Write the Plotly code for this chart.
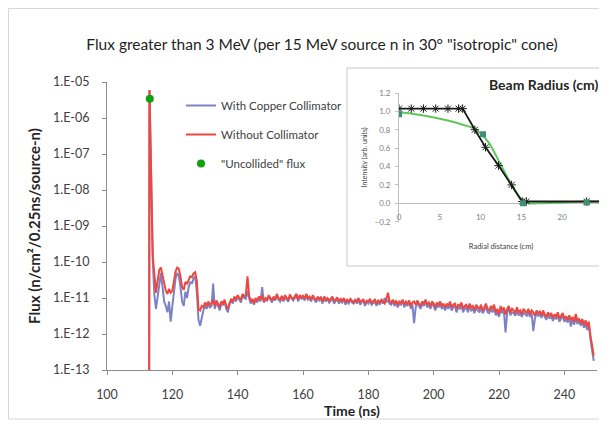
import numpy as np
import plotly.graph_objects as go

# Time grid of the main plot (ns); the collided flux is sampled every 0.5 ns after the spike
spike_time = [112.9, 113.0]
main_time = np.arange(114.0, 249.01, 0.5)

# Flux values (n/cm^2/0.25ns/source-n); tails are written in units of 1e-12
spike_red = [1e-14, 6e-6]
spike_blue = [1e-14, 6e-6]

red_tail_e12 = [
    150, 45, 14, 30, 60, 70, 45, 25, 16, 13,
    18, 14, 16, 30, 55, 70, 65, 40, 20, 17,
    28, 25, 32, 40, 38, 48, 52, 30, 5, 4.5,
    6, 5.5, 7.5, 6, 8, 6.5, 7, 9, 6, 8.5,
    7, 5.5, 8, 7, 9, 6, 5, 7.5, 9.5, 8,
    11, 9, 12, 10, 9, 13, 11, 12, 40, 12,
    8, 9.5, 7, 10, 8.5, 11, 9, 12, 8, 10,
    9, 12, 10, 8.5, 11, 9, 13, 10, 9, 11.5,
    8.5, 12, 10, 9, 12.5, 10, 9.5, 11, 13, 9,
    12, 10.5, 11.5, 9.5, 13, 10, 11, 9, 12, 10,
    8.5, 11, 9.5, 10.5, 8, 11, 9, 10, 8.5, 9.5,
    11, 8, 9, 10.5, 8, 9.5, 8.5, 10, 7.5, 9,
    8, 9.5, 8.5, 7.5, 9, 8, 10, 7.5, 8.5, 9,
    7, 8.5, 8, 9.5, 7.5, 8, 9, 7, 8.5, 7.5,
    9, 8, 7, 9, 14, 8, 7.5, 9, 7, 8.5,
    6.5, 8, 7.5, 9, 6.5, 8, 7, 8.5, 6, 7.5,
    8, 6.5, 8.5, 7, 6, 8, 7, 9, 6.5, 7.5,
    6, 8, 7, 5.5, 7.5, 6.5, 8, 6, 7, 5.5,
    7, 6, 8, 5.5, 6.5, 7, 5, 6.5, 6, 7.5,
    5, 6, 6.5, 5, 7, 5.5, 6, 4.5, 6.5, 5.5,
    5, 6.5, 4.5, 5.5, 7, 5, 4.5, 6, 5, 6.5,
    4, 5, 3.5, 6, 4.5, 5.5, 3.5, 5, 6, 4,
    5, 4.5, 3.8, 5.5, 4, 4.5, 3.5, 5, 4.2, 3.8,
    5, 3.5, 4.5, 4, 3.2, 4.5, 3.8, 4.2, 3.3, 4.5,
    3.5, 3, 4, 3.2, 3.8, 2.8, 3.5, 3, 4, 2.7,
    3.2, 3.8, 2.6, 3.1, 2.5, 3.3, 2.4, 3, 2.2, 3.6,
    2.3, 2.7, 2, 2.6, 1.8, 2.4, 1.6, 2.2, 0.9, 0.5,
    0.25,
]

blue_tail_e12 = [
    120, 12, 5, 12, 30, 50, 20, 8, 6, 4,
    8, 2.2, 6, 15, 35, 50, 40, 20, 8, 6,
    15, 10, 20, 28, 25, 35, 40, 15, 2.5, 1.7,
    3, 4.5, 6, 5, 7, 5.5, 6, 25, 5, 7.5,
    6, 4.5, 7, 6.5, 8, 5, 4, 7, 8.5, 7,
    10, 8, 11, 9, 7.5, 12, 10, 9.5, 16, 10,
    7, 8.5, 6.5, 9.5, 7.5, 10, 8, 20, 7.5, 9,
    8.5, 11, 9, 7.5, 10, 8.5, 12, 9, 8, 10.5,
    8, 11, 9, 8, 11.5, 9.5, 8.5, 10, 12, 8,
    11, 9.5, 10.5, 8.5, 12, 9, 10, 8, 11, 9,
    7.5, 10, 8.5, 9.5, 7, 10, 8, 9.5, 7.5, 8.5,
    10, 7, 8.5, 9.5, 7, 8.5, 7.5, 9.5, 6.5, 8,
    7, 9, 7.5, 7, 8.5, 7, 9, 6.5, 8, 8,
    6, 8, 7, 8.5, 6.5, 7.5, 8, 6, 8, 6.5,
    8.5, 7, 10, 8, 8.5, 7, 6.5, 8.5, 6, 7.5,
    5.5, 7, 6.5, 8.5, 5.5, 7, 6, 8, 5, 6.5,
    2, 5.5, 7.5, 6, 5, 7, 6, 8.5, 5.5, 6.5,
    5, 7, 6, 4.5, 6.5, 5.5, 7, 5, 6, 4.5,
    6, 5, 7, 4.5, 5.5, 6, 4, 5.5, 5, 6.5,
    4, 5, 5.5, 4, 6, 4.5, 5, 3.8, 5.5, 4.5,
    4, 5.5, 3.8, 4.5, 6, 4, 3.8, 5, 4, 5.5,
    3.3, 4, 3, 5, 3.8, 4.5, 1.1, 4, 5, 3.3,
    4, 3.8, 3.2, 4.5, 3.3, 3.8, 3, 4, 3.5, 3.2,
    4, 3, 3.8, 1.2, 2.7, 3.8, 3.2, 3.5, 2.8, 3.8,
    3, 2.5, 3.4, 2.7, 3.2, 2.3, 3, 2.6, 3.3, 2.2,
    2.7, 3.2, 2.2, 2.6, 2.1, 2.8, 1.6, 2.6, 1.8, 3,
    1.9, 2.3, 1.7, 2.2, 1.5, 2, 1.3, 1.8, 0.7, 0.35,
    0.18,
]

uncollided_time = [113.1]
uncollided_flux = [3.4e-6]

y_tick_vals = [1e-13, 1e-12, 1e-11, 1e-10, 1e-9, 1e-8, 1e-7, 1e-6, 1e-5]
y_tick_text = ["1.E-13", "1.E-12", "1.E-11", "1.E-10", "1.E-09",
               "1.E-08", "1.E-07", "1.E-06", "1.E-05"]
x_tick_vals = [100, 120, 140, 160, 180, 200, 220, 240]

# Inset: beam radius profile
radius_fit = [0, 1.5, 3, 4.5, 6, 7.3, 7.8, 9.3, 10.6, 12.2, 13.8, 15.1, 15.6, 23, 25]
intensity_fit = [1.03, 1.03, 1.03, 1.03, 1.03, 1.03, 1.03, 0.8, 0.61, 0.41, 0.2,
                 0.02, 0.02, 0.02, 0.02]
radius_smooth = [0, 2, 4, 6, 8, 9, 10, 11, 12, 13, 14, 15, 16, 17, 20, 23, 25]
intensity_smooth = [0.99, 0.97, 0.94, 0.9, 0.85, 0.82, 0.76, 0.66, 0.5, 0.33, 0.17,
                    0.04, 0.0, 0.0, 0.01, 0.02, 0.02]
radius_meas = [0, 10.3, 15.2, 23]
intensity_meas = [0.97, 0.75, 0.0, 0.01]
inset_x_ticks = [0, 5, 10, 15, 20, 25]

red_flux = spike_red + list(np.array(red_tail_e12) * 1e-12)
blue_flux = spike_blue + list(np.array(blue_tail_e12) * 1e-12)
time = spike_time + list(main_time)

BLUE = "#7d82c5"
RED = "#ec4840"
GREEN = "#12a012"
GREY = "#404040"
AXIS = "#8c8c8c"
FONT = "Lato"

# the page body has an 8px margin, so the figure is laid out 8px short of the window
W, H = 599, 413
L, R, T, B = 99, 4, 74, 51
PW, PH = W - L - R, H - T - B


def px(page_x):
    return (page_x - 8 - L) / PW


def py(page_y):
    return (T + PH - (page_y - 8)) / PH


fig = go.Figure()

fig.add_trace(go.Scatter(x=time, y=blue_flux, mode="lines", name="With Copper Collimator",
                         line=dict(color=BLUE, width=2), legendgroup="a"))
fig.add_trace(go.Scatter(x=time, y=red_flux, mode="lines", name="Without Collimator",
                         line=dict(color=RED, width=2), legendgroup="b"))
fig.add_trace(go.Scatter(x=uncollided_time, y=uncollided_flux, mode="markers",
                         name='"Uncollided" flux', marker=dict(color=GREEN, size=8),
                         legendgroup="c"))

# inset traces
fig.add_trace(go.Scatter(x=radius_smooth, y=intensity_smooth, mode="lines",
                         line=dict(color="#5cc85c", width=2, shape="spline"),
                         xaxis="x2", yaxis="y2", showlegend=False))
fig.add_trace(go.Scatter(x=radius_fit, y=intensity_fit, mode="lines+markers",
                         line=dict(color="#1a1a1a", width=1.8),
                         marker=dict(symbol="asterisk-open", size=7,
                                     line=dict(color="#555555", width=1)),
                         xaxis="x2", yaxis="y2", showlegend=False))
fig.add_trace(go.Scatter(x=radius_meas, y=intensity_meas, mode="markers",
                         marker=dict(symbol="square", size=6, color="#3f8f72"),
                         xaxis="x2", yaxis="y2", showlegend=False))

fig.update_layout(
    width=W, height=H,
    margin=dict(l=L, r=R, t=T, b=B),
    paper_bgcolor="white", plot_bgcolor="white",
    font=dict(family=FONT, color=GREY, size=12),
    title=dict(text='Flux greater than 3 MeV (per 15 MeV source n in 30° "isotropic" cone)',
               x=(322 - 8) / W, xanchor="center", y=1 - (45 - 8) / H, yanchor="middle",
               font=dict(size=15.5, color="#1f1f1f")),
    legend=dict(x=px(181), y=py(91), xanchor="left", yanchor="top",
                bgcolor="rgba(0,0,0,0)", tracegroupgap=10, itemwidth=30,
                font=dict(size=11.5, color=GREY)),
    xaxis=dict(domain=[0, 490 / PW], range=[100, 250], tickvals=x_tick_vals,
               showgrid=False, zeroline=False, showline=True, linecolor=AXIS,
               ticks="outside", ticklen=4, tickcolor=AXIS, ticklabelstandoff=9,
               tickfont=dict(size=12.5, color=GREY),
               title=dict(text="<b>Time (ns)</b>", standoff=5,
                          font=dict(size=14, color="#262626"))),
    yaxis=dict(type="log", range=[-13, -5], tickvals=y_tick_vals, ticktext=y_tick_text,
               showgrid=False, zeroline=False, showline=True, linecolor=AXIS,
               ticks="outside", ticklen=4, tickcolor=AXIS, ticklabelstandoff=10,
               tickfont=dict(size=12.5, color=GREY),
               title=dict(text="<b>Flux (n/cm²/0.25ns/source-n)</b>", standoff=8,
                          font=dict(size=15, color="#262626"))),
    xaxis2=dict(domain=[px(399), 1.0], range=[0, 25], tickvals=inset_x_ticks,
                anchor="free", position=py(211), showgrid=False, zeroline=False,
                showline=False, ticks="", tickfont=dict(size=8, color="#808080"),
                title=dict(text="Radial distance (cm)", standoff=22,
                           font=dict(size=7.5, color=GREY))),
    yaxis2=dict(domain=[py(221.7), py(93)], range=[-0.2, 1.2], dtick=0.2, tickformat=".1f",
                anchor="x2", showgrid=False, zeroline=True, zerolinecolor="#bfbfbf",
                zerolinewidth=1, showline=True, linecolor="#bfbfbf", ticks="outside",
                ticklen=3, tickcolor="#bfbfbf", ticklabelstandoff=3,
                tickfont=dict(size=8, color="#808080"),
                title=dict(text="Intensity (arb. units)", standoff=6,
                           font=dict(size=7, color=GREY))),
)

# chart frame and inset frame
fig.add_shape(type="rect", xref="paper", yref="paper", layer="below",
              x0=px(8.5), x1=px(620), y0=py(419), y1=py(8.5),
              line=dict(color="#d6d6d6", width=1), fillcolor="rgba(0,0,0,0)")
fig.add_shape(type="rect", xref="paper", yref="paper", layer="below",
              x0=px(347), x1=px(620), y0=py(266), y1=py(68),
              line=dict(color="#c8c8c8", width=1), fillcolor="white")

fig.add_annotation(text="<b>Beam Radius (cm)</b>", xref="paper", yref="paper",
                   x=px(600), y=py(85), xanchor="right", yanchor="middle",
                   showarrow=False, font=dict(size=14, color="#262626"))

fig.write_html("out.html")
